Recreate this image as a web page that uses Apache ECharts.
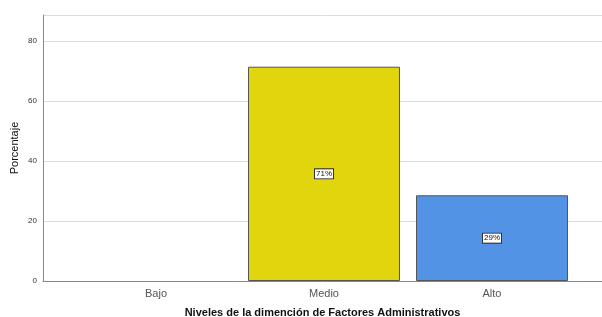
<!DOCTYPE html>
<html>
<head>
<meta charset="utf-8">
<script src="https://cdn.jsdelivr.net/npm/echarts@6/dist/echarts.min.js"></script>
<style>
  html, body { margin: 0; padding: 0; background: #fff; }
  #chart { width: 602px; height: 317px; }
</style>
</head>
<body>
<div id="chart"></div>
<script>
var categories = ['Bajo', 'Medio', 'Alto'];
var values = [0, 71.43, 28.57];
var barColors = ['#e1d50e', '#e1d50e', '#5393e5'];
var yTicks = [0, 20, 40, 60, 80];

var myChart = echarts.init(document.getElementById('chart'));
var yMax = 88.67;

var option = {
    animation: false,
    textStyle: { fontFamily: 'Arial, "Liberation Sans", sans-serif' },
    grid: [
        /*外框：轴线和网格线*/
        { left: 43, right: 0, top: 15, bottom: 36, containLabel: false, outerBoundsMode: 'none' },
        /*柱子区域*/
        { left: 72, right: 26, top: 15, bottom: 36, containLabel: false, outerBoundsMode: 'none' }
    ],
    xAxis: [
        {
            gridIndex: 0,
            type: 'value',
            min: 0,
            max: 1,
            axisLine: { show: true, lineStyle: { color: '#888', width: 1 } },
            axisTick: { show: false },
            axisLabel: { show: false },
            splitLine: { show: false },
            name: 'Niveles de la dimención de Factores Administrativos',
            nameLocation: 'middle',
            nameGap: 26,
            nameMoveOverlap: false,
            nameTextStyle: { color: '#111', fontSize: 11, fontWeight: 'bold' }
        },
        {
            gridIndex: 1,
            type: 'category',
            data: categories,
            axisLine: { show: false },
            axisTick: { show: false },
            axisLabel: { color: '#555', fontSize: 11, margin: 7 }
        }
    ],
    yAxis: [
        {
            gridIndex: 0,
            type: 'value',
            min: 0,
            max: yMax,
            interval: 20,
            axisLine: { show: true, lineStyle: { color: '#888', width: 1 } },
            axisTick: { show: false },
            axisLabel: {
                color: '#333',
                fontSize: 8,
                margin: 6,
                formatter: function (v) { return yTicks.indexOf(v) >= 0 ? v : ''; }
            },
            splitLine: { show: true, lineStyle: { color: '#dcdcdc', width: 1 } },
            name: 'Porcentaje',
            nameLocation: 'middle',
            nameGap: 23,
            nameMoveOverlap: false,
            nameRotate: 90,
            nameTextStyle: { color: '#111', fontSize: 11 }
        },
        {
            gridIndex: 1,
            type: 'value',
            min: 0,
            max: yMax,
            show: false
        }
    ],
    series: [
        {
            type: 'bar',
            xAxisIndex: 1,
            yAxisIndex: 1,
            barWidth: 152,
            data: values.map(function (v, i) {
                return {
                    value: v,
                    itemStyle: { color: barColors[i], borderColor: '#555', borderWidth: v > 0 ? 1 : 0 },
                    label: { show: v > 0 }
                };
            }),
            label: {
                position: 'inside',
                color: '#111',
                fontSize: 8,
                backgroundColor: '#fff',
                borderColor: '#333',
                borderWidth: 1,
                padding: [1, 1, 0, 1],
                formatter: function (p) { return Math.round(p.value) + '%'; }
            }
        }
    ]
};
myChart.setOption(option);
</script>
</body>
</html>
